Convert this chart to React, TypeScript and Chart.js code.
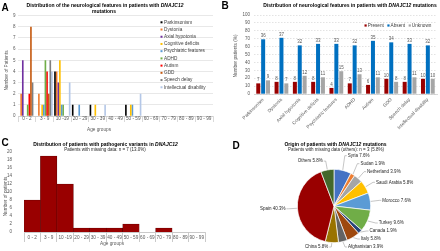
import React, { useEffect, useRef } from 'react';
import { Chart, registerables } from 'chart.js';

Chart.register(...registerables);

const FONT = '"Liberation Sans", Arial, Helvetica, sans-serif';

// ---------- Panel A / C categories ----------
const ageGroups = ['0 - 2', '3 - 9', '10 -19', '20 - 29', '30 - 39', '40 - 49', '50 - 59', '60 - 69', '70 - 79', '80 - 89', '90 - 99'];

// ---------- Panel A series (number of patients per age group) ----------
const features = ['Parkinsonism', 'Dystonia', 'Axial hypotonia', 'Cognitive deficits', 'Psychiatric features', 'ADHD', 'Autism', 'GDD', 'Speech delay', 'Intellectual disability'];
const parkinsonism = [0, 0, 4, 1, 1, 0, 1, 0, 0, 0, 0];
const dystonia = [2, 2, 4, 0, 0, 0, 0, 0, 0, 0, 0];
const axialHypotonia = [5, 0, 3, 0, 0, 0, 0, 0, 0, 0, 0];
const cognitiveDeficits = [0, 1, 5, 0, 1, 0, 1, 0, 0, 0, 0];
const psychiatricFeatures = [0, 1, 1, 1, 0, 0, 1, 0, 0, 0, 0];
const adhd = [1, 5, 1, 0, 0, 0, 0, 0, 0, 0, 0];
const autism = [2, 4, 0, 0, 0, 0, 0, 0, 0, 0, 0];
const gdd = [8, 2, 0, 0, 0, 0, 0, 0, 0, 0, 0];
const speechDelay = [3, 5, 0, 0, 0, 0, 0, 0, 0, 0, 0];
const intellectualDisability = [0, 4, 3, 0, 1, 0, 2, 0, 0, 0, 0];

// ---------- Panel B (counts; bars drawn as % of all patients) ----------
const presentCounts = [7, 8, 8, 8, 4, 7, 6, 10, 8, 10];
const absentCounts = [36, 37, 32, 33, 33, 32, 35, 34, 33, 32];
const unknownCounts = [9, 7, 12, 11, 15, 13, 11, 8, 11, 10];
const totalPatients = 52;
const bPercentTicks = [0, 10, 20, 30, 40, 50, 60, 70, 80, 90, 100];

// ---------- Panel C ----------
const patientsPerAge = [8, 19, 12, 1, 1, 1, 2, 0, 1, 0, 0];

// ---------- Panel D ----------
const countries = ['Syria', 'Sudan', 'Netherland', 'Saudi Arabia', 'Morocco', 'Turkey', 'Canada', 'Italy', 'Afghanistan', 'China', 'Spain', 'Others'];
const countryPct = [7.6, 1.9, 3.9, 5.8, 7.6, 9.6, 1.9, 5.8, 3.9, 5.8, 40.3, 5.8];

// ---------- styles ----------
const featureColors = ['#000000', '#ED7D31', '#7030A0', '#FFC000', '#5B9BD5', '#70AD47', '#FF0000', '#C55A11', '#7F7F7F', '#B4C7E7'];
const countryColors = ['#4472C4', '#ED7D31', '#A5A5A5', '#FFC000', '#5B9BD5', '#70AD47', '#264478', '#9E480E', '#636363', '#997300', '#990000', '#43682B'];
const DARK_RED = '#990000';
const TXT = '#595959';
const SZ = 4.7;

type Seg = { t: string; b?: boolean; i?: boolean };
type TextItem = { x: number; y: number; segs: Seg[]; size: number; align?: 'left' | 'center' | 'right'; color?: string; rot?: number };

function drawItem(ctx: CanvasRenderingContext2D, it: TextItem) {
  ctx.save();
  ctx.translate(it.x, it.y);
  if (it.rot) ctx.rotate(it.rot);
  ctx.textBaseline = 'middle';
  ctx.textAlign = 'left';
  ctx.fillStyle = it.color || '#000';
  const fontOf = (s: Seg) => `${s.i ? 'italic ' : ''}${s.b ? 'bold ' : ''}${it.size}px ${FONT}`;
  let total = 0;
  const widths = it.segs.map((s) => {
    ctx.font = fontOf(s);
    const w = ctx.measureText(s.t).width;
    total += w;
    return w;
  });
  let x = it.align === 'left' ? 0 : it.align === 'right' ? -total : -total / 2;
  it.segs.forEach((s, k) => {
    ctx.font = fontOf(s);
    ctx.fillText(s.t, x, 0);
    x += widths[k];
  });
  ctx.restore();
}

const textPlugin = (items: TextItem[]) => ({
  id: 'texts',
  afterDraw(chart: any) {
    items.forEach((it) => drawItem(chart.ctx, it));
  },
});

const tickFont = { family: FONT, size: SZ };

function configA(): any {
  const series = [parkinsonism, dystonia, axialHypotonia, cognitiveDeficits, psychiatricFeatures, adhd, autism, gdd, speechDelay, intellectualDisability];
  const legendA = {
    id: 'legA',
    afterDraw(chart: any) {
      const ctx = chart.ctx;
      ctx.save();
      chart.data.datasets.forEach((ds: any, i: number) => {
        const y = 22.3 + i * 7.22;
        ctx.fillStyle = ds.backgroundColor;
        ctx.fillRect(160.5, y - 1, 2, 2);
        ctx.fillStyle = '#404040';
        ctx.font = `${SZ}px ${FONT}`;
        ctx.textBaseline = 'middle';
        ctx.textAlign = 'left';
        ctx.fillText(ds.label, 164, y);
      });
      ctx.restore();
    },
  };
  return {
    type: 'bar',
    data: {
      labels: ageGroups,
      datasets: features.map((f, i) => ({
        label: f,
        data: series[i],
        backgroundColor: featureColors[i],
        categoryPercentage: 0.92,
        barPercentage: 1,
        borderWidth: 0,
      })),
    },
    options: {
      animation: false,
      responsive: false,
      maintainAspectRatio: false,
      layout: { padding: { left: 0, right: 7, top: 15.7, bottom: 0 } },
      plugins: { legend: { display: false }, tooltip: { enabled: false }, title: { display: false } },
      scales: {
        x: {
          afterFit: (s: any) => { s.height = 19; },
          grid: { drawOnChartArea: false, offset: true, tickLength: 6, color: '#bfbfbf', lineWidth: 0.6 },
          border: { color: '#bfbfbf', width: 0.6 },
          ticks: { font: tickFont, color: TXT, padding: -6.3, autoSkip: false, maxRotation: 0, minRotation: 0 },
        },
        y: {
          min: 0,
          max: 9,
          afterFit: (s: any) => { s.width = 18; },
          ticks: { stepSize: 1, autoSkip: false, font: { family: FONT, size: 4.5 }, color: TXT, padding: 2.5 },
          grid: { color: '#d9d9d9', lineWidth: 0.6, drawTicks: false },
          border: { display: false },
        },
      },
    },
    plugins: [
      legendA,
      textPlugin([
        { x: 1.5, y: 8.5, segs: [{ t: 'A', b: true }], size: 10, align: 'left' },
        { x: 105, y: 5.7, segs: [{ t: 'Distribution of the neurological features in patients with ', b: true }, { t: 'DNAJC12', b: true, i: true }], size: 5 },
        { x: 104, y: 11.3, segs: [{ t: 'mutations', b: true }], size: 5 },
        { x: 99, y: 130, segs: [{ t: 'Age groups' }], size: SZ, color: TXT },
        { x: 7, y: 70.5, segs: [{ t: 'Number of Patients' }], size: SZ, color: TXT, rot: -Math.PI / 2 },
      ]),
    ],
  };
}

function configB(): any {
  const countsList = [presentCounts, absentCounts, unknownCounts];
  const names = ['Present', 'Absent', 'Unknown'];
  const colors = [DARK_RED, '#0070C0', '#A6A6A6'];
  const dataLabels = {
    id: 'dl',
    afterDatasetsDraw(chart: any) {
      const ctx = chart.ctx;
      ctx.save();
      ctx.font = `4.5px ${FONT}`;
      ctx.fillStyle = TXT;
      ctx.textAlign = 'center';
      ctx.textBaseline = 'middle';
      chart.data.datasets.forEach((ds: any, di: number) => {
        const meta = chart.getDatasetMeta(di);
        meta.data.forEach((el: any, k: number) => {
          ctx.fillText(String(countsList[di][k]), el.x, el.y - 3.4);
        });
      });
      ctx.restore();
    },
  };
  const legendB = {
    id: 'legB',
    afterDraw(chart: any) {
      const ctx = chart.ctx;
      ctx.save();
      ctx.font = `${SZ}px ${FONT}`;
      ctx.textBaseline = 'middle';
      ctx.textAlign = 'left';
      let x = 144.5;
      const y = 25.5;
      chart.data.datasets.forEach((ds: any) => {
        ctx.fillStyle = ds.backgroundColor;
        ctx.fillRect(x, y - 1.1, 2.2, 2.2);
        x += 3.2;
        ctx.fillStyle = '#404040';
        ctx.fillText(ds.label, x, y);
        x += ctx.measureText(ds.label).width + 3.5;
      });
      ctx.restore();
    },
  };
  return {
    type: 'bar',
    data: {
      labels: features,
      datasets: countsList.map((arr, i) => ({
        label: names[i],
        data: arr.map((v) => (v / totalPatients) * 100),
        backgroundColor: colors[i],
        categoryPercentage: 0.8,
        barPercentage: 0.82,
        borderWidth: 0,
      })),
    },
    options: {
      animation: false,
      responsive: false,
      maintainAspectRatio: false,
      layout: { padding: { left: 0, right: 3, top: 15, bottom: 0 } },
      plugins: { legend: { display: false }, tooltip: { enabled: false }, title: { display: false } },
      scales: {
        x: {
          afterFit: (s: any) => { s.height = 41; },
          grid: { display: true, drawOnChartArea: false, drawTicks: false },
          border: { color: '#bfbfbf', width: 0.6 },
          ticks: { font: tickFont, color: TXT, padding: 3, autoSkip: false, maxRotation: 45, minRotation: 45 },
        },
        y: {
          min: bPercentTicks[0],
          max: bPercentTicks[bPercentTicks.length - 1],
          afterFit: (s: any) => { s.width = 34; },
          ticks: { stepSize: 10, autoSkip: false, font: { family: FONT, size: 4.5 }, color: TXT, padding: 4 },
          grid: { color: '#d0d0d0', lineWidth: 0.6, drawTicks: false },
          border: { display: false, dash: [1.5, 1.5] },
        },
      },
    },
    plugins: [
      dataLabels,
      legendB,
      textPlugin([
        { x: 1.5, y: 6.5, segs: [{ t: 'B', b: true }], size: 10, align: 'left' },
        { x: 130, y: 5.2, segs: [{ t: 'Distribution of neurological features in patients with ', b: true }, { t: 'DNAJC12', b: true, i: true }, { t: ' mutations', b: true }], size: 5 },
        { x: 16, y: 56, segs: [{ t: 'Number patients (%)' }], size: SZ, color: TXT, rot: -Math.PI / 2 },
      ]),
    ],
  };
}

function configC(): any {
  return {
    type: 'bar',
    data: {
      labels: ageGroups,
      datasets: [
        {
          label: 'Patients',
          data: patientsPerAge,
          backgroundColor: DARK_RED,
          borderColor: '#5a0000',
          borderWidth: 0.6,
          categoryPercentage: 1,
          barPercentage: 1,
        },
      ],
    },
    options: {
      animation: false,
      responsive: false,
      maintainAspectRatio: false,
      layout: { padding: { left: 0, right: 15, top: 17, bottom: 0 } },
      plugins: { legend: { display: false }, tooltip: { enabled: false }, title: { display: false } },
      scales: {
        x: {
          afterFit: (s: any) => { s.height = 19; },
          grid: { drawOnChartArea: false, offset: true, tickLength: 10, color: '#a6a6a6', lineWidth: 0.6 },
          border: { color: '#a6a6a6', width: 0.6 },
          ticks: { font: tickFont, color: TXT, padding: -6.8, autoSkip: false, maxRotation: 0, minRotation: 0 },
        },
        y: {
          min: 0,
          max: 20,
          afterFit: (s: any) => { s.width = 24; },
          ticks: { stepSize: 2, autoSkip: false, font: { family: FONT, size: 4.5 }, color: TXT, padding: 4 },
          grid: { display: false },
          border: { display: false },
        },
      },
    },
    plugins: [
      textPlugin([
        { x: 1.5, y: 8.5, segs: [{ t: 'C', b: true }], size: 10, align: 'left' },
        { x: 105.5, y: 9.3, segs: [{ t: 'Distribution of patients with pathogenic variants in ', b: true }, { t: 'DNAJC12', b: true, i: true }], size: 5 },
        { x: 105, y: 14.4, segs: [{ t: 'Patients with missing data: n = 7 (13.0%)' }], size: 4.5, color: '#262626' },
        { x: 112, y: 108.5, segs: [{ t: 'Age groups' }], size: SZ, color: TXT },
        { x: 6, y: 61.5, segs: [{ t: 'Number of patients' }], size: SZ, color: TXT, rot: -Math.PI / 2 },
      ]),
    ],
  };
}

function configD(): any {
  const pieLabels = {
    id: 'pieLabels',
    afterDatasetsDraw(chart: any) {
      const ctx = chart.ctx;
      const meta = chart.getDatasetMeta(0);
      const items = meta.data.map((arc: any, i: number) => {
        const p = arc.getProps(['x', 'y', 'startAngle', 'endAngle', 'outerRadius'], true);
        const a = (p.startAngle + p.endAngle) / 2;
        const c = Math.cos(a);
        const s = Math.sin(a);
        const R = p.outerRadius + 9;
        return {
          i,
          right: c >= 0,
          ex: p.x + c * (p.outerRadius + 0.5),
          ey: p.y + s * (p.outerRadius + 0.5),
          ax: p.x + c * R,
          ay: p.y + s * R,
          ly: p.y + s * R,
        };
      });
      const maxY = chart.height - 4;
      [true, false].forEach((side) => {
        const list = items.filter((it: any) => it.right === side).sort((p: any, q: any) => p.ay - q.ay);
        let next = Infinity;
        for (let k = list.length - 1; k >= 0; k--) {
          const it = list[k];
          it.ly = Math.min(it.ay, maxY, next - 8);
          next = it.ly;
        }
        let prev = -Infinity;
        list.forEach((it: any) => {
          it.ly = Math.max(it.ly, prev + 5.5);
          prev = it.ly;
        });
      });
      ctx.save();
      ctx.strokeStyle = '#8c8c8c';
      ctx.lineWidth = 0.5;
      ctx.font = `4.5px ${FONT}`;
      ctx.fillStyle = '#262626';
      ctx.textBaseline = 'middle';
      items.forEach((it: any) => {
        const dir = it.right ? 1 : -1;
        ctx.beginPath();
        ctx.moveTo(it.ex, it.ey);
        ctx.lineTo(it.ax, it.ly);
        ctx.lineTo(it.ax + dir * 2, it.ly);
        ctx.stroke();
        ctx.textAlign = it.right ? 'left' : 'right';
        ctx.fillText(`${countries[it.i]} ${countryPct[it.i].toFixed(1)}%`, it.ax + dir * 3, it.ly);
      });
      ctx.restore();
    },
  };
  return {
    type: 'pie',
    data: {
      labels: countries,
      datasets: [{ data: countryPct, backgroundColor: countryColors, borderColor: '#ffffff', borderWidth: 0.7 }],
    },
    options: {
      animation: false,
      responsive: false,
      maintainAspectRatio: false,
      layout: { padding: { left: 60, right: 52, top: 34, bottom: 8 } },
      plugins: { legend: { display: false }, tooltip: { enabled: false }, title: { display: false } },
    },
    plugins: [
      pieLabels,
      textPlugin([
        { x: 12.5, y: 11.5, segs: [{ t: 'D', b: true }], size: 10, align: 'left' },
        { x: 115.5, y: 10, segs: [{ t: 'Origin of patients with ', b: true }, { t: 'DNAJC12', b: true, i: true }, { t: ' mutations', b: true }], size: 5 },
        { x: 116, y: 15.2, segs: [{ t: 'Patients with missing data (others): n = 3 (5.8%)' }], size: 4.5, color: '#262626' },
      ]),
    ],
  };
}

function ChartBox(props: { make: () => any; left: number; top: number; width: number; height: number }) {
  const ref = useRef<HTMLCanvasElement>(null);
  useEffect(() => {
    const chart = new Chart(ref.current as HTMLCanvasElement, props.make());
    return () => chart.destroy();
  }, []);
  return (
    <canvas
      ref={ref}
      width={props.width}
      height={props.height}
      style={{ position: 'absolute', left: props.left, top: props.top, width: props.width, height: props.height }}
    />
  );
}

export default function App() {
  return (
    <div style={{ position: 'absolute', left: 0, top: 0, width: 440, height: 251, background: '#ffffff', overflow: 'hidden' }}>
      <ChartBox make={configA} left={0} top={0} width={220} height={135} />
      <ChartBox make={configB} left={220} top={0} width={220} height={135} />
      <ChartBox make={configC} left={0} top={135} width={220} height={116} />
      <ChartBox make={configD} left={220} top={135} width={220} height={116} />
    </div>
  );
}
